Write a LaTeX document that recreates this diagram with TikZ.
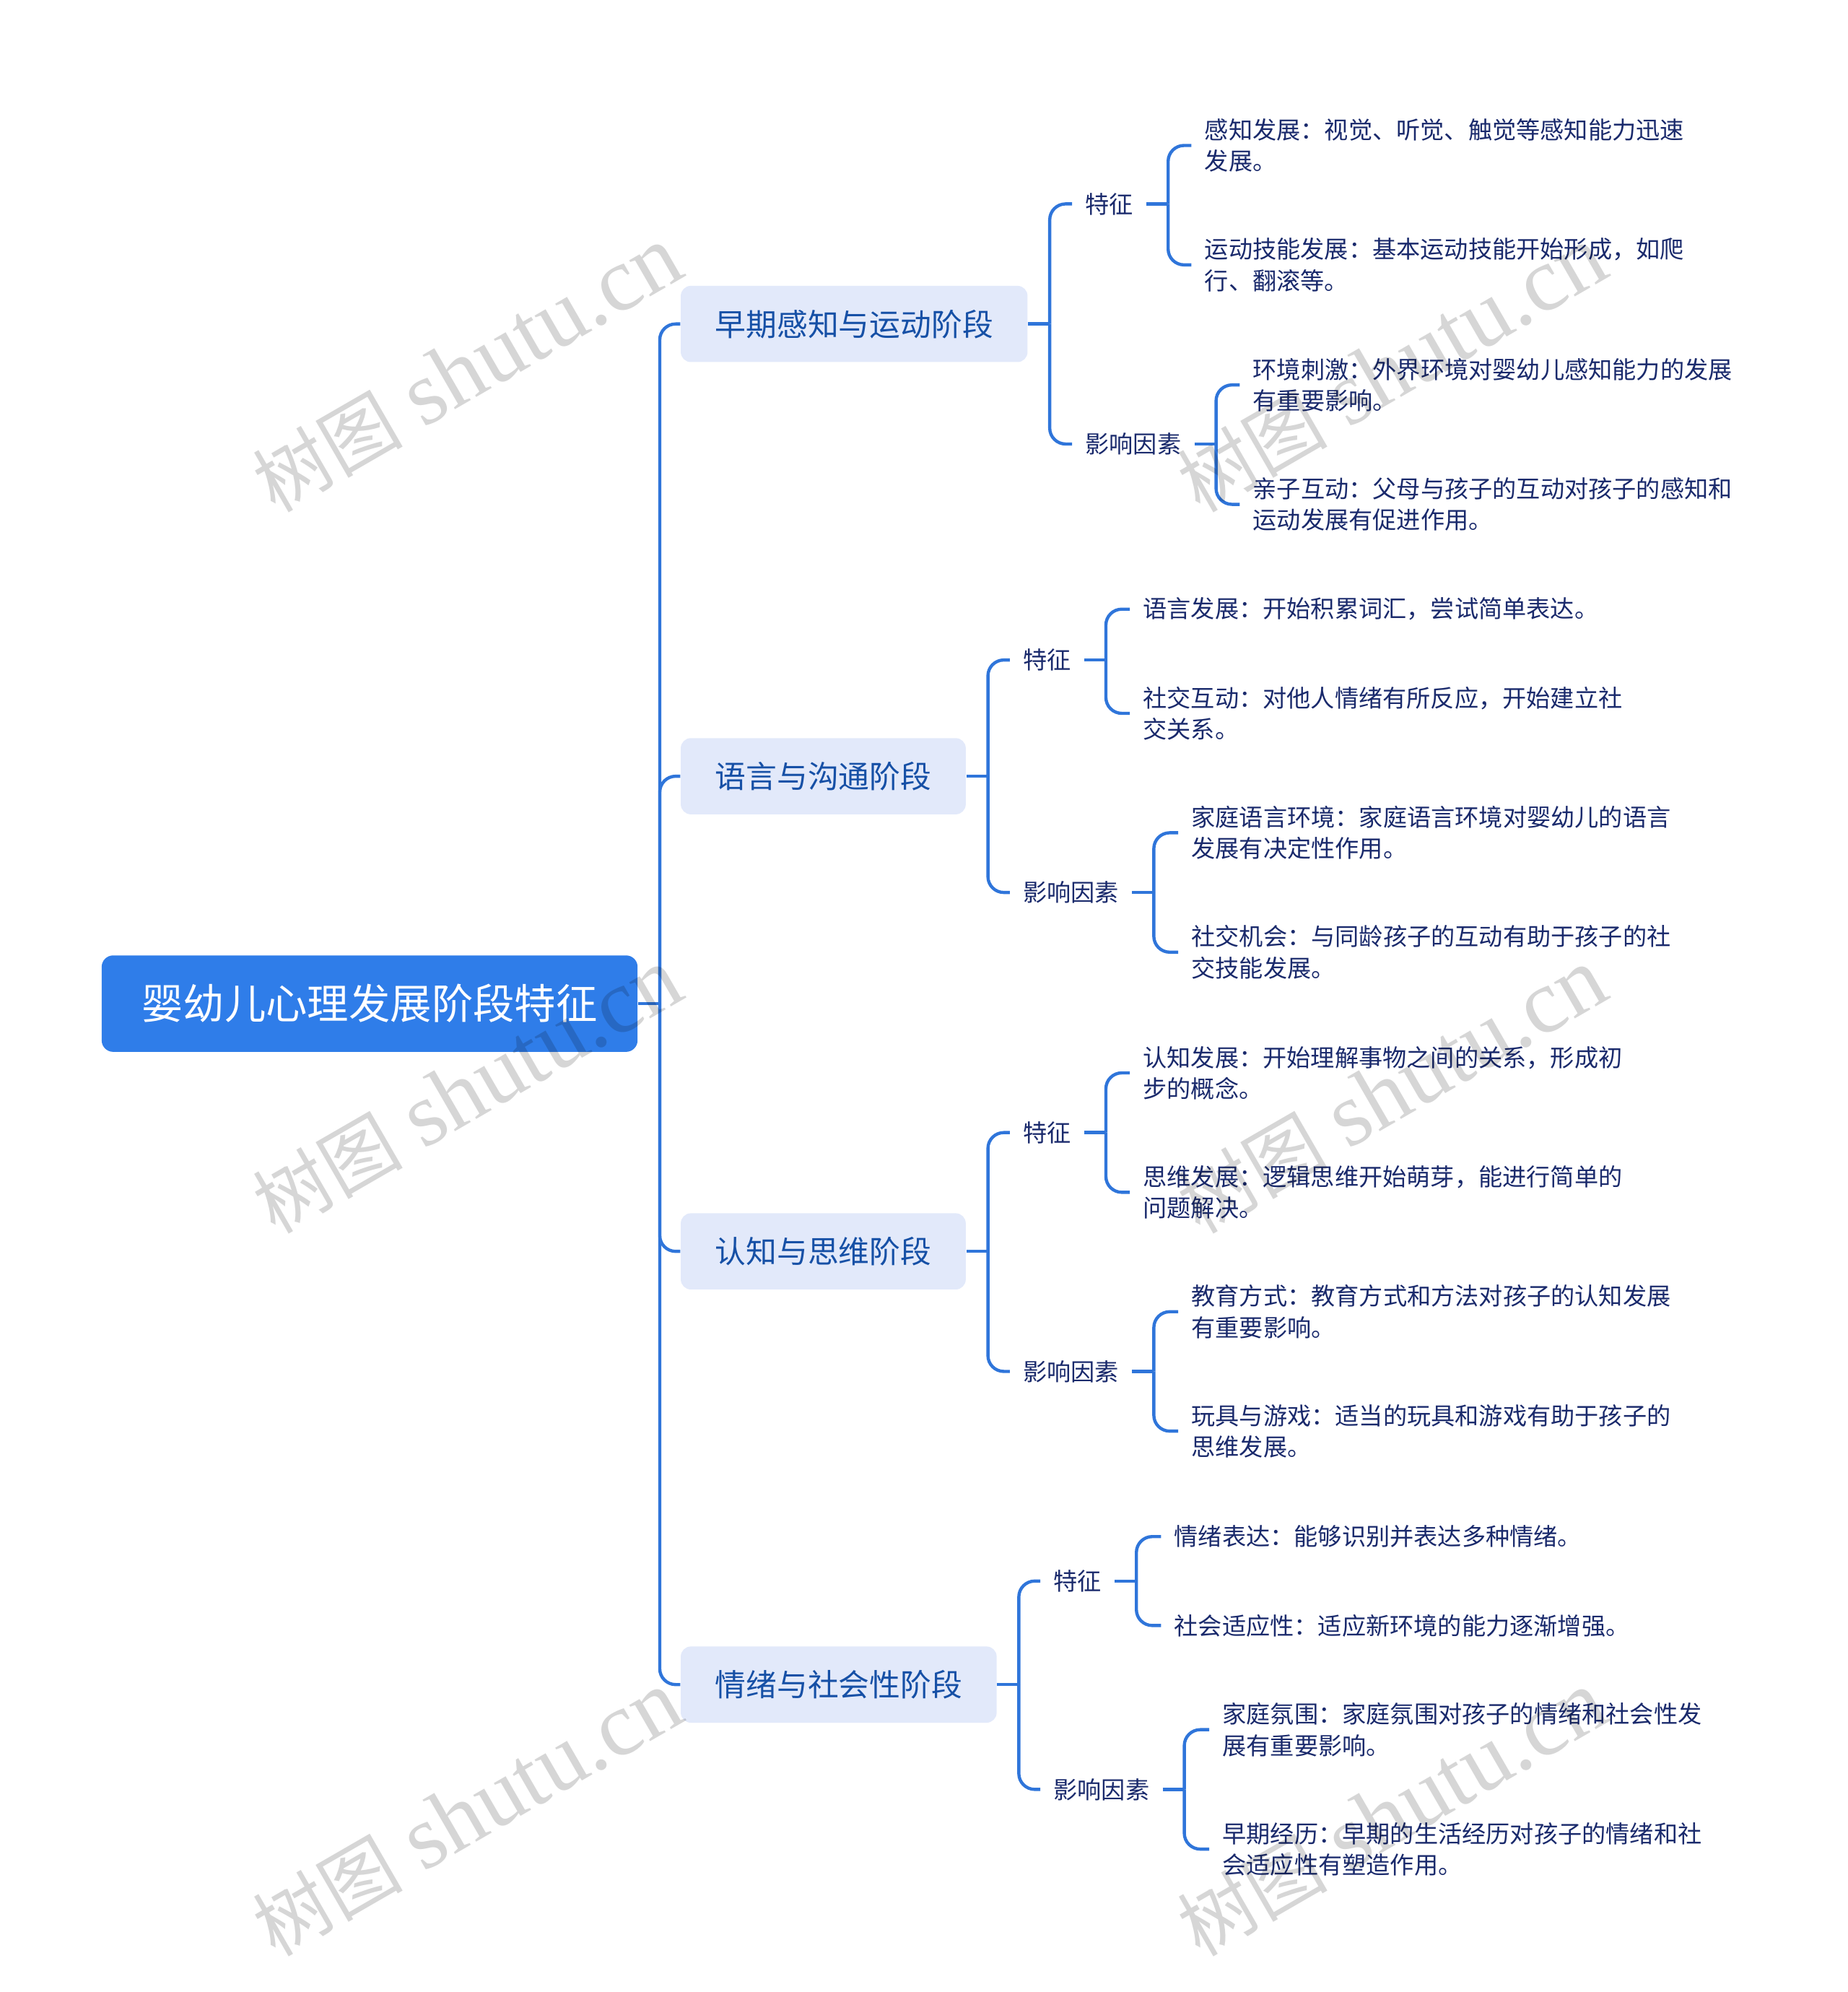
\documentclass[tikz,border=0pt]{standalone}
\usepackage{fontspec}
\setmainfont{Noto Sans CJK SC}
\newfontfamily\wmlatin{Liberation Serif}
\definecolor{rootblue}{HTML}{2F7DE9}
\definecolor{linkblue}{HTML}{2F75DA}
\definecolor{stagefill}{HTML}{E2E9FA}
\definecolor{stageink}{HTML}{1650A6}
\definecolor{leafink}{HTML}{1A2A6C}
\tikzset{
	rootbox/.style={fill=rootblue, text=white, rounded corners=4pt, minimum width=185.6pt, minimum height=33.4pt, inner sep=0pt, font=\fontsize{14.35pt}{17pt}\selectfont},
	stagebox/.style={fill=stagefill, text=stageink, rounded corners=3.5pt, anchor=west, inner xsep=11.9pt, inner ysep=0pt, minimum height=26.4pt, font=\fontsize{10.7pt}{13pt}\selectfont},
	kindbox/.style={text=leafink, anchor=west, inner xsep=4.4pt, inner ysep=0pt, font=\fontsize{8.3pt}{10.8pt}\selectfont},
	leafbox/.style={kindbox, align=left},
	link/.style={draw=linkblue, line width=1.1pt},
	elbow/.style={link, rounded corners=5.5pt},
	wmark/.style={rotate=30, text=black, text opacity=0.16, inner sep=0pt, font=\fontsize{26pt}{30pt}\selectfont}
}
\begin{document}
\begin{tikzpicture}[x=0.4399pt, y=-0.4399pt, line join=round, line cap=butt]
	\useasboundingbox (0,0) rectangle (1454.9,1568);
	
	\node[rootbox] (root) at (291,790) {婴幼儿心理发展阶段特征};
	
	\node[stagebox] (a) at (535.5,255) {早期感知与运动阶段};
	\node[stagebox] (b) at (535.5,611) {语言与沟通阶段};
	\node[stagebox] (c) at (535.5,985) {认知与思维阶段};
	\node[stagebox] (d) at (535.5,1326) {情绪与社会性阶段};
	
	\node[kindbox] (a1) at (844,160.5) {特征};
	\node[kindbox] (a2) at (844,349.5) {影响因素};
	\node[kindbox] (b1) at (795,519.5) {特征};
	\node[kindbox] (b2) at (795,702.5) {影响因素};
	\node[kindbox] (c1) at (795,891.5) {特征};
	\node[kindbox] (c2) at (795,1079.5) {影响因素};
	\node[kindbox] (d1) at (819,1244.5) {特征};
	\node[kindbox] (d2) at (819,1408.5) {影响因素};
	
	\node[leafbox] (a11) at (938,114.5) {感知发展：视觉、听觉、触觉等感知能力迅速\\发展。};
	\node[leafbox] (a12) at (938,208.5) {运动技能发展：基本运动技能开始形成，如爬\\行、翻滚等。};
	\node[leafbox] (a21) at (976,303) {环境刺激：外界环境对婴幼儿感知能力的发展\\有重要影响。};
	\node[leafbox] (a22) at (976,397) {亲子互动：父母与孩子的互动对孩子的感知和\\运动发展有促进作用。};
	\node[leafbox] (b11) at (889.5,479.5) {语言发展：开始积累词汇，尝试简单表达。};
	\node[leafbox] (b12) at (889.5,561.5) {社交互动：对他人情绪有所反应，开始建立社\\交关系。};
	\node[leafbox] (b21) at (927.5,655.5) {家庭语言环境：家庭语言环境对婴幼儿的语言\\发展有决定性作用。};
	\node[leafbox] (b22) at (927.5,749.5) {社交机会：与同龄孩子的互动有助于孩子的社\\交技能发展。};
	\node[leafbox] (c11) at (889.5,844.5) {认知发展：开始理解事物之间的关系，形成初\\步的概念。};
	\node[leafbox] (c12) at (889.5,938.5) {思维发展：逻辑思维开始萌芽，能进行简单的\\问题解决。};
	\node[leafbox] (c21) at (927.5,1032.5) {教育方式：教育方式和方法对孩子的认知发展\\有重要影响。};
	\node[leafbox] (c22) at (927.5,1126.5) {玩具与游戏：适当的玩具和游戏有助于孩子的\\思维发展。};
	\node[leafbox] (d11) at (914,1209.5) {情绪表达：能够识别并表达多种情绪。};
	\node[leafbox] (d12) at (914,1279.5) {社会适应性：适应新环境的能力逐渐增强。};
	\node[leafbox] (d21) at (952,1361.5) {家庭氛围：家庭氛围对孩子的情绪和社会性发\\展有重要影响。};
	\node[leafbox] (d22) at (952,1455.5) {早期经历：早期的生活经历对孩子的情绪和社\\会适应性有塑造作用。};
	
	\foreach \p in {root,a,b,c,d,a1,a2,b1,b2,c1,c2,d1,d2}
	\draw[link] (\p.east) -- ++(17,0);
	
	\foreach \p/\q in {root/a,root/b,root/c,root/d,a/a1,a/a2,b/b1,b/b2,c/c1,c/c2,d/d1,d/d2,
		a1/a11,a1/a12,a2/a21,a2/a22,b1/b11,b1/b12,b2/b21,b2/b22,
		c1/c11,c1/c12,c2/c21,c2/c22,d1/d11,d1/d12,d2/d21,d2/d22}
	\draw[elbow] (\p.east) ++(17,0) |- (\q.west);
	
	% watermark on top of everything
	\foreach \i/\x/\y in {1/368/291,2/368/859,3/368/1428,4/1096/291,5/1096/859,6/1096/1428}
	\node[wmark] (wm\i) at (\x,\y) {树图\hspace{7pt}{\wmlatin\fontsize{31.5pt}{36pt}\selectfont shutu.cn}};
\end{tikzpicture}
\end{document}
